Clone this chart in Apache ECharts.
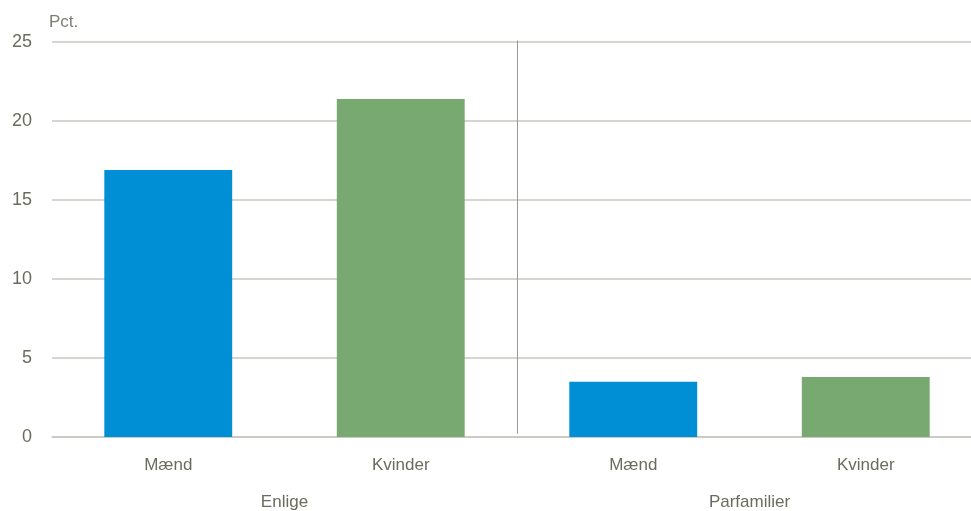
<!DOCTYPE html>
<html><head><meta charset="utf-8">
<script src="https://cdn.jsdelivr.net/npm/echarts@6/dist/echarts.min.js"></script>
<style>html,body{margin:0;padding:0;background:#fff;overflow:hidden;width:971px;height:511px}#c{width:982px;height:511px}</style>
</head><body><div id="c"></div>
<script>
const categories = ["Mænd","Kvinder","Mænd","Kvinder"];
const groups = ["Enlige","Parfamilier"];
const values = [16.9, 21.4, 3.5, 3.8];
const barColors = ["#008FD5","#78A970","#008FD5","#78A970"];
const yTicks = {min:0, max:25, interval:5};
const separatorAfter = [1];

const font = '"Liberation Sans",Arial,sans-serif';
const txt = '#6b6b5e';
const chart = echarts.init(document.getElementById('c'), null, {renderer:'canvas'});
chart.setOption({
  animation:false,
  grid:{left:52, right:0, top:42, bottom:74},
  graphic:[{type:'text', left:49, top:14, style:{text:'Pct.', font:'17px '+font, fill:'#7d7d74'}}],
  xAxis:[{
    type:'category', data:categories, position:'bottom',
    axisLine:{show:true, lineStyle:{color:'#c8c8c2', width:1.5}},
    axisTick:{show:false},
    axisLabel:{color:txt, fontFamily:font, fontSize:17, margin:20}
  },{
    type:'category', data:groups, position:'bottom',
    axisLine:{show:false}, axisTick:{show:false},
    axisLabel:{color:txt, fontFamily:font, fontSize:17, margin:57},
    splitLine:{show:false}
  }],
  yAxis:{
    type:'value', min:yTicks.min, max:yTicks.max, interval:yTicks.interval,
    axisLine:{show:false}, axisTick:{show:false},
    axisLabel:{color:txt, fontFamily:font, fontSize:18, margin:20},
    splitLine:{lineStyle:{color:'#c8c8c2', width:1.5}}
  },
  series:[{
    type:'bar', xAxisIndex:0, barWidth:'55%',
    data: values.map((v,i)=>({value:v, itemStyle:{color:barColors[i]}}))
  },{
    type:'custom', xAxisIndex:0, silent:true, z:1,
    data: separatorAfter.map(i=>[i, yTicks.max]),
    renderItem:function(params, api){
      const i = api.value(0);
      const a = api.coord([i, yTicks.max + 0.1]);
      const b = api.coord([i+1, 0.2]);
      const x = Math.round((a[0]+b[0])/2) + 0.5;
      return {type:'line', shape:{x1:x, y1:a[1], x2:x, y2:b[1]},
        style:{stroke:'#9a9a94', lineWidth:1}};
    }
  }]
});
</script></body></html>
